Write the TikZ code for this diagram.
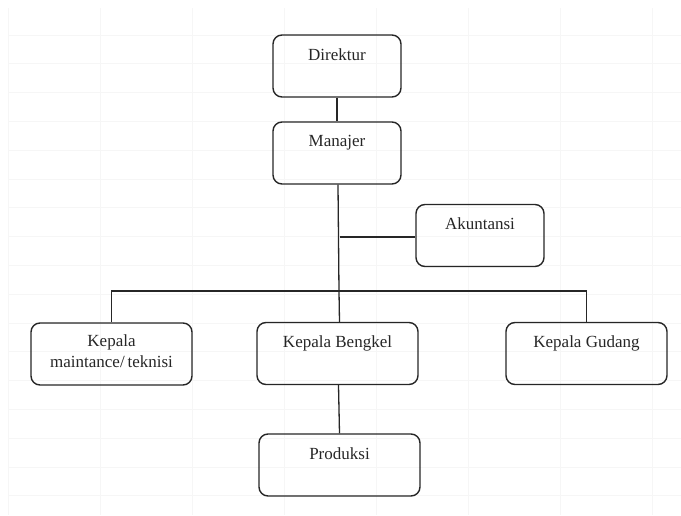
\documentclass[tikz,border=0pt]{standalone}
\usepackage{fontspec}
\setmainfont{Liberation Serif}
\begin{document}
\begin{tikzpicture}[x=1pt,y=-1pt,
  box/.style={draw=black!85,line width=1.4pt,rounded corners=9pt,
    minimum width=#1,minimum height=62pt,inner sep=0pt},
  box/.default=128pt,
  lbl/.style={anchor=north,inner sep=0pt,align=center,
    font=\fontsize{17}{21}\selectfont,text=black!85},
  wire/.style={draw=black!85,line width=1.3pt},
  grid/.style={draw=black!3.5,line width=0.7pt}]
\useasboundingbox (0,0) rectangle (681,515);
% faint table grid behind the chart
\foreach \gx in {8,100,192,284,376,468,560,652}
  \draw[grid] (\gx,8) -- (\gx,515);
\foreach \gy in {35,63.8,92.6,121.4,150.2,179,207.8,236.6,265.4,294.2,323,351.8,380.6,409.4,438.2,467,495.8}
  \draw[grid] (8,\gy) -- (681,\gy);
% boxes
\node[box] (dir) at (337,66) {};
\node[box] (man) at (337,153) {};
\node[box] (aku) at (480,235.5) {};
\node[box=161pt] (kmt) at (111.5,354) {};
\node[box=161pt] (kbg) at (337.5,353.5) {};
\node[box=161pt] (kgd) at (586.5,353.5) {};
\node[box=161pt] (prd) at (339.5,465) {};
% labels
\node[lbl] (tdir) at ([yshift=-14]dir.north) {Direktur};
\node[lbl] (tman) at ([yshift=-14]man.north) {Manajer};
\node[lbl] (taku) at ([yshift=-14]aku.north) {Akuntansi};
\node[lbl] (tkmt) at ([yshift=-12]kmt.north) {Kepala\\maintance/\,teknisi};
\node[lbl] (tkbg) at ([yshift=-14]kbg.north) {Kepala Bengkel};
\node[lbl] (tkgd) at ([yshift=-14]kgd.north) {Kepala Gudang};
\node[lbl] (tprd) at ([yshift=-14]prd.north) {Produksi};
% connectors
\coordinate (bus) at (339,291);
\coordinate (tap) at (339.5,237);
\draw[wire] (dir.south) -- (man.south |- man.north);
\draw[wire] ([xshift=1]man.south) -- (bus);
\draw[wire] (tap) -- (aku.west |- tap);
\draw[wire] (kmt.north) -- (kmt.north |- bus) -- (kgd.north |- bus) -- (kgd.north);
\draw[wire] (bus) -- ([xshift=2]kbg.north);
\draw[wire] ([xshift=1]kbg.south) -- (prd.north);
\end{tikzpicture}
\end{document}
